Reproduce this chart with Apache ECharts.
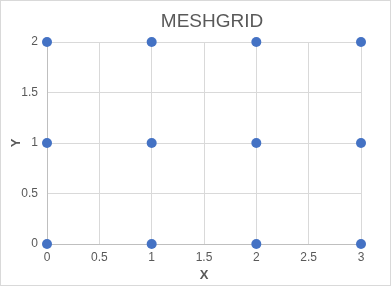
<!DOCTYPE html>
<html><head><meta charset="utf-8">
<script src="https://cdn.jsdelivr.net/npm/echarts@6/dist/echarts.min.js"></script>
<style>html,body{margin:0;padding:0;background:#fff}#c{width:391px;height:286px;box-sizing:border-box;border:1px solid #d9d9d9}</style>
</head><body><div id="c"></div>
<script>
var xValues = [0, 1, 2, 3];
var yValues = [0, 1, 2];
var xTicks = [0, 0.5, 1, 1.5, 2, 2.5, 3];
var yTicks = [0, 0.5, 1, 1.5, 2];
var points = [];
yValues.forEach(function(y){ xValues.forEach(function(x){ points.push([x, y]); }); });
var chart = echarts.init(document.getElementById('c'));
var fontFam = 'Liberation Sans, Arial, sans-serif';
chart.setOption({
  animation: false,
  title: { text: 'MESHGRID', left: 206, top: 6, textAlign: 'center',
    textStyle: { color: '#595959', fontSize: 19, fontWeight: 'normal', fontFamily: fontFam } },
  grid: { left: 46, right: 29, top: 41, bottom: 41, containLabel: false, outerBoundsMode: 'none' },
  xAxis: { type: 'value', min: 0, max: 3, interval: 0.5,
    name: 'X', nameLocation: 'middle', nameGap: 25, nameMoveOverlap: false,
    nameTextStyle: { color: '#595959', fontSize: 13, fontWeight: 'bold', fontFamily: fontFam },
    axisLine: { show: true, lineStyle: { color: '#bfbfbf' } }, axisTick: { show: false },
    axisLabel: { color: '#595959', fontSize: 12, fontFamily: fontFam, margin: 8 },
    splitLine: { show: true, lineStyle: { color: '#d9d9d9' } } },
  yAxis: { type: 'value', min: 0, max: 2, interval: 0.5,
    name: 'Y', nameLocation: 'middle', nameGap: 24, nameMoveOverlap: false,
    nameTextStyle: { color: '#595959', fontSize: 13, fontWeight: 'bold', fontFamily: fontFam },
    axisLine: { show: true, lineStyle: { color: '#bfbfbf' } }, axisTick: { show: false },
    axisLabel: { color: '#595959', fontSize: 12, fontFamily: fontFam, margin: 9 },
    splitLine: { show: true, lineStyle: { color: '#d9d9d9' } } },
  series: [{ type: 'scatter', data: points, symbolSize: 10, itemStyle: { color: '#4472c4', opacity: 1 } }]
});
</script></body></html>
